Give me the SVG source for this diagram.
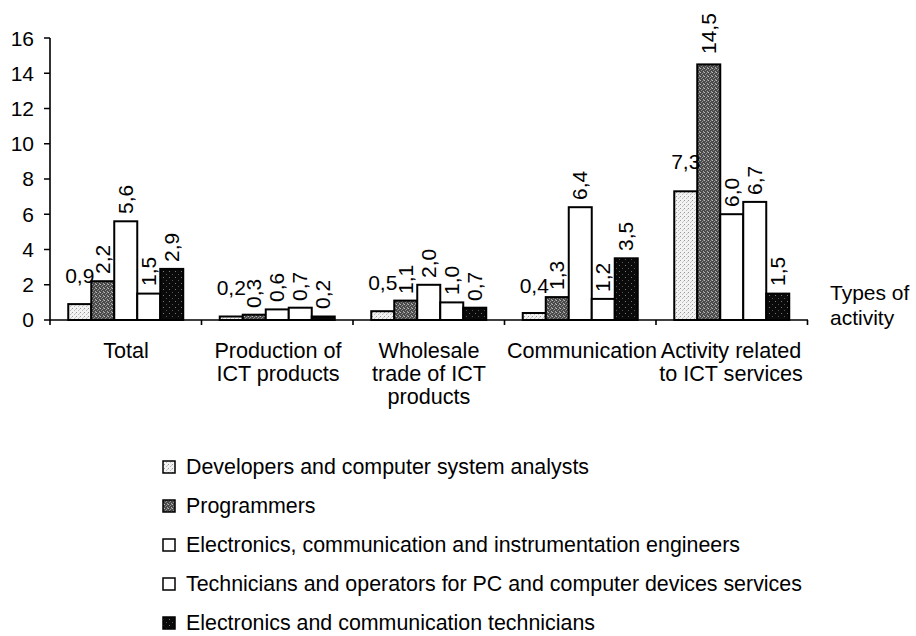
<svg xmlns="http://www.w3.org/2000/svg" width="916" height="636" viewBox="0 0 916 636">
<defs>
<pattern id="p1" width="4" height="4" patternUnits="userSpaceOnUse">
<rect width="4" height="4" fill="#f2f2f2"/>
<rect x="0" y="0" width="1" height="1" fill="#999"/>
<rect x="2" y="2" width="1" height="1" fill="#bbb"/>
<rect x="3" y="1" width="1" height="1" fill="#ccc"/>
</pattern>
<pattern id="p2" width="4" height="4" patternUnits="userSpaceOnUse">
<rect width="4" height="4" fill="#4a4a4a"/>
<rect x="0" y="0" width="1" height="1" fill="#bbb"/>
<rect x="2" y="1" width="1" height="1" fill="#999"/>
<rect x="1" y="2" width="1" height="1" fill="#888"/>
<rect x="3" y="3" width="1" height="1" fill="#aaa"/>
<rect x="3" y="0" width="1" height="1" fill="#777"/>
</pattern>
<pattern id="p5" width="6" height="6" patternUnits="userSpaceOnUse">
<rect width="6" height="6" fill="#0a0a0a"/>
<rect x="1" y="1" width="1" height="1" fill="#777"/>
<rect x="4" y="4" width="1" height="1" fill="#555"/>
</pattern>
</defs>
<style>
text{font-family:"Liberation Sans",Arial,sans-serif;font-size:21px;fill:#000}
.cat{font-size:21.6px}
.leg{font-size:21.4px}
.b{stroke:#000;stroke-width:2}
.s1{fill:url(#p1)}
.s2{fill:url(#p2)}
.s3{fill:#fff}
.s4{fill:#fff}
.s5{fill:url(#p5)}
.ax{stroke:#000;stroke-width:1.6;fill:none}
.ya{text-anchor:end}
.c{text-anchor:middle}
.lg{stroke:#000;stroke-width:1.5}
</style>

<g id="axes">
<path class="ax" d="M50,38V320H808"/>
<path class="ax" d="M44,38H50M44,73.25H50M44,108.5H50M44,143.75H50M44,179H50M44,214.25H50M44,249.5H50M44,284.75H50M44,320H50"/>
<path class="ax" d="M50,320V325M201.5,320V325M353,320V325M504.5,320V325M656,320V325M807.5,320V325"/>
<text class="ya" x="34" y="46">16</text>
<text class="ya" x="34" y="81">14</text>
<text class="ya" x="34" y="116">12</text>
<text class="ya" x="34" y="151">10</text>
<text class="ya" x="34" y="186">8</text>
<text class="ya" x="34" y="222">6</text>
<text class="ya" x="34" y="257">4</text>
<text class="ya" x="34" y="292">2</text>
<text class="ya" x="34" y="327">0</text>
<text x="830" y="300">Types of</text>
<text x="830" y="325">activity</text>
</g>

<g id="cat-total">
<rect class="b s1" x="68.25" y="304.1" width="23" height="15.9"/>
<rect class="b s2" x="91.25" y="281.2" width="23" height="38.8"/>
<rect class="b s3" x="114.25" y="221.3" width="23" height="98.7"/>
<rect class="b s4" x="137.25" y="293.6" width="23" height="26.4"/>
<rect class="b s5" x="160.25" y="268.9" width="23" height="51.1"/>
<text class="c" x="79.75" y="283">0,9</text>
<text transform="translate(109.75,274) rotate(-90)">2,2</text>
<text transform="translate(132.75,214) rotate(-90)">5,6</text>
<text transform="translate(155.75,286) rotate(-90)">1,5</text>
<text transform="translate(178.75,262) rotate(-90)">2,9</text>
<text class="c cat" x="126" y="358">Total</text>
</g>

<g id="cat-production">
<rect class="b s1" x="219.75" y="316.5" width="23" height="3.5"/>
<rect class="b s2" x="242.75" y="314.7" width="23" height="5.3"/>
<rect class="b s3" x="265.75" y="309.4" width="23" height="10.6"/>
<rect class="b s4" x="288.75" y="307.7" width="23" height="12.3"/>
<rect class="b s5" x="311.75" y="316.5" width="23" height="3.5"/>
<text class="c" x="231.25" y="295">0,2</text>
<text transform="translate(261.25,308) rotate(-90)">0,3</text>
<text transform="translate(284.25,302) rotate(-90)">0,6</text>
<text transform="translate(307.25,301) rotate(-90)">0,7</text>
<text transform="translate(330.25,309) rotate(-90)">0,2</text>
<text class="c cat" x="278" y="358">Production of</text>
<text class="c cat" x="278" y="381">ICT products</text>
</g>

<g id="cat-wholesale">
<rect class="b s1" x="371.25" y="311.2" width="23" height="8.8"/>
<rect class="b s2" x="394.25" y="300.6" width="23" height="19.4"/>
<rect class="b s3" x="417.25" y="284.8" width="23" height="35.2"/>
<rect class="b s4" x="440.25" y="302.4" width="23" height="17.6"/>
<rect class="b s5" x="463.25" y="307.7" width="23" height="12.3"/>
<text class="c" x="382.75" y="290">0,5</text>
<text transform="translate(412.75,294) rotate(-90)">1,1</text>
<text transform="translate(435.75,278) rotate(-90)">2,0</text>
<text transform="translate(458.75,295) rotate(-90)">1,0</text>
<text transform="translate(481.75,301) rotate(-90)">0,7</text>
<text class="c cat" x="429" y="358">Wholesale</text>
<text class="c cat" x="429" y="381">trade of ICT</text>
<text class="c cat" x="429" y="404">products</text>
</g>

<g id="cat-communication">
<rect class="b s1" x="522.75" y="313" width="23" height="7"/>
<rect class="b s2" x="545.75" y="297.1" width="23" height="22.9"/>
<rect class="b s3" x="568.75" y="207.2" width="23" height="112.8"/>
<rect class="b s4" x="591.75" y="298.9" width="23" height="21.1"/>
<rect class="b s5" x="614.75" y="258.3" width="23" height="61.7"/>
<text class="c" x="534.25" y="293">0,4</text>
<text transform="translate(564.25,290) rotate(-90)">1,3</text>
<text transform="translate(587.25,200) rotate(-90)">6,4</text>
<text transform="translate(610.25,292) rotate(-90)">1,2</text>
<text transform="translate(633.25,251) rotate(-90)">3,5</text>
<text class="c cat" x="582" y="358">Communication</text>
</g>

<g id="cat-ict-services">
<rect class="b s1" x="674.25" y="191.3" width="23" height="128.7"/>
<rect class="b s2" x="697.25" y="64.4" width="23" height="255.6"/>
<rect class="b s3" x="720.25" y="214.2" width="23" height="105.8"/>
<rect class="b s4" x="743.25" y="201.9" width="23" height="118.1"/>
<rect class="b s5" x="766.25" y="293.6" width="23" height="26.4"/>
<text class="c" x="685.75" y="169">7,3</text>
<text transform="translate(715.75,54) rotate(-90)">14,5</text>
<text transform="translate(738.75,207) rotate(-90)">6,0</text>
<text transform="translate(761.75,195) rotate(-90)">6,7</text>
<text transform="translate(784.75,286) rotate(-90)">1,5</text>
<text class="c cat" x="731" y="358">Activity related</text>
<text class="c cat" x="731" y="381">to ICT services</text>
</g>

<g id="legend">
<g id="leg-1"><rect class="lg s1" x="163" y="461" width="12" height="12"/><text class="leg" x="186" y="474">Developers and computer system analysts</text></g>
<g id="leg-2"><rect class="lg s2" x="163" y="500" width="12" height="12"/><text class="leg" x="186" y="513">Programmers</text></g>
<g id="leg-3"><rect class="lg s3" x="163" y="539" width="12" height="12"/><text class="leg" x="186" y="552">Electronics, communication and instrumentation engineers</text></g>
<g id="leg-4"><rect class="lg s4" x="163" y="578" width="12" height="12"/><text class="leg" x="186" y="591">Technicians and operators for PC and computer devices services</text></g>
<g id="leg-5"><rect class="lg s5" x="163" y="617" width="12" height="12"/><text class="leg" x="186" y="630">Electronics and communication technicians</text></g>
</g>
</svg>
